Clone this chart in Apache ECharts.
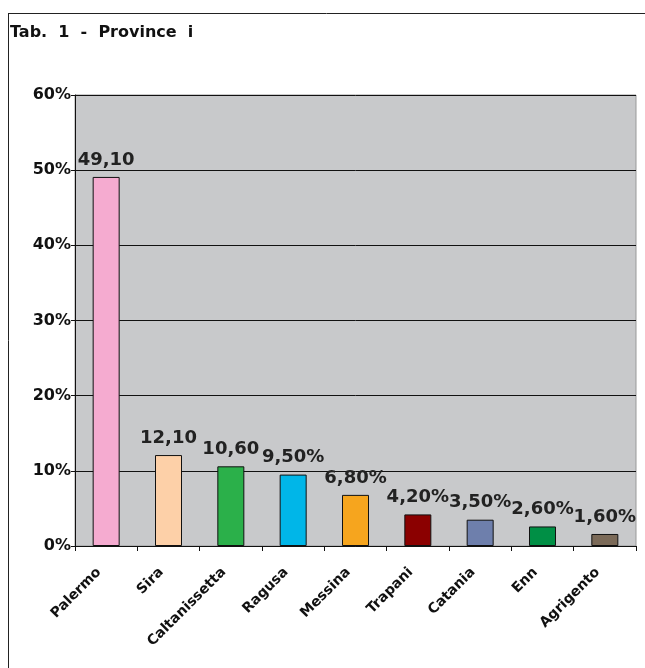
<!DOCTYPE html>
<html><head><meta charset="utf-8">
<script src="https://cdn.jsdelivr.net/npm/echarts@6/dist/echarts.min.js"></script>
<style>html,body{margin:0;padding:0;background:#fff}#c{width:645px;height:668px}</style>
</head><body><div id="c"></div>
<script>
const categories = ["Palermo", "Sira", "Caltanissetta", "Ragusa", "Messina", "Trapani", "Catania", "Enn", "Agrigento"];
const values = [49.1, 12.1, 10.6, 9.5, 6.8, 4.2, 3.5, 2.6, 1.6];
const valueLabels = ["49,10", "12,10", "10,60", "9,50%", "6,80%", "4,20%", "3,50%", "2,60%", "1,60%"];
const barColors = ["#f5abd0", "#fdd0a8", "#2bb04a", "#00b6e8", "#f6a51e", "#8b0000", "#6e7fac", "#008f45", "#7b6a58"];
const yTicks = [0, 10, 20, 30, 40, 50, 60];

const chart = echarts.init(document.getElementById('c'), null, {renderer: 'canvas'});
chart.setOption({
  animation: false,
  backgroundColor: '#fff',
  title: {
    text: 'Tab.  1  -  Province  i', left: 10, top: 25, padding: 0,
    textStyle: {fontFamily: 'DejaVu Sans', fontWeight: 'bold', fontSize: 16, color: '#111'}
  },
  graphic: [
    {type: 'line', shape: {x1: 8, y1: 13.5, x2: 645, y2: 13.5}, style: {stroke: '#222', lineWidth: 1}},
    {type: 'line', shape: {x1: 8.5, y1: 13, x2: 8.5, y2: 668}, style: {stroke: '#222', lineWidth: 1}}
  ],
  grid: {left: 75, right: 9, top: 95, bottom: 122, show: true, backgroundColor: '#c8c9cb', borderColor: '#999', borderWidth: 1},
  xAxis: {
    type: 'category', data: categories,
    axisLine: {show: true, lineStyle: {color: '#111', width: 1}},
    axisTick: {show: true, length: 5, lineStyle: {color: '#111'}},
    axisLabel: {interval: 0, rotate: 45, margin: 17, padding: [0, 10, 0, 0], fontFamily: 'DejaVu Sans', fontWeight: 'bold', fontSize: 14, color: '#111'}
  },
  yAxis: {
    type: 'value', min: 0, max: 60, interval: 10,
    axisLine: {show: true, lineStyle: {color: '#111', width: 1}},
    axisTick: {show: true, length: 4, lineStyle: {color: '#111'}},
    splitLine: {show: true, lineStyle: {color: '#111', width: 1}},
    axisLabel: {formatter: v => yTicks.includes(v) ? v + '%' : '', margin: 4, fontFamily: 'DejaVu Sans', fontWeight: 'bold', fontSize: 16, color: '#111'}
  },
  series: [{
    type: 'bar', barWidth: 27,
    data: values.map((v, i) => ({value: v, itemStyle: {color: barColors[i]}})),
    itemStyle: {borderColor: '#111', borderWidth: 1},
    label: {
      show: true, position: 'top', distance: 8,
      formatter: p => valueLabels[p.dataIndex],
      fontFamily: 'DejaVu Sans', fontWeight: 'bold', fontSize: 18, color: '#222'
    }
  }]
});
</script></body></html>
